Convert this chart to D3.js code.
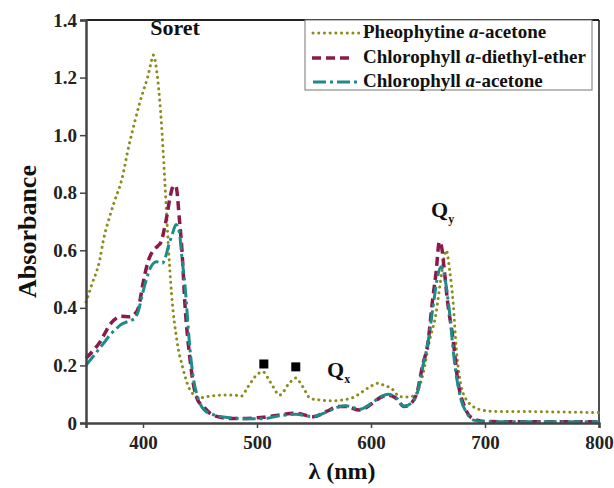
<!DOCTYPE html>
<html lang="en">
<head>
<meta charset="UTF-8">
<title>Absorbance spectra</title>
<script src="https://d3js.org/d3.v7.min.js"></script>
<style>
  body { margin: 0; background: #fff; }
  svg { display: block; }
  svg text { font-family: "Liberation Serif", "Times New Roman", Times, "DejaVu Serif", serif; font-weight: bold; }
</style>
</head>
<body>
<svg id="chart" width="614" height="488"></svg>
<script>
// wavelength (nm) / absorbance
const pheoWl  = [350, 355, 362, 365, 371, 375, 381, 388, 393, 397, 400, 404, 407, 409, 413, 416, 419, 422, 425, 430, 435, 440, 445, 450, 460, 470, 480, 486, 492, 500, 505, 512, 520, 528, 534, 540, 547, 555, 565, 575, 585, 593, 600, 606, 612, 618, 625, 632, 638, 645, 651, 657, 662, 666, 669, 672, 675, 679, 683, 688, 695, 710, 730, 750, 770, 800];
const pheoAbs = [0.42, 0.48, 0.566, 0.63, 0.72, 0.77, 0.84, 0.97, 1.05, 1.11, 1.15, 1.20, 1.25, 1.278, 1.19, 1.05, 0.85, 0.63, 0.45, 0.28, 0.19, 0.125, 0.097, 0.088, 0.094, 0.097, 0.097, 0.093, 0.125, 0.168, 0.178, 0.14, 0.097, 0.137, 0.156, 0.127, 0.085, 0.08, 0.077, 0.08, 0.09, 0.11, 0.128, 0.138, 0.13, 0.12, 0.092, 0.09, 0.095, 0.16, 0.28, 0.38, 0.52, 0.60, 0.53, 0.42, 0.25, 0.13, 0.085, 0.062, 0.047, 0.04, 0.04, 0.039, 0.038, 0.036];

const etherWl  = [350, 356, 362, 367, 372, 377, 381, 388, 393, 396, 400, 404, 409, 413, 416, 419, 421, 424, 427, 429, 432, 434, 437, 441, 444, 448, 453, 461, 476, 491, 505, 520, 534, 549, 561, 571, 578, 590, 601, 608, 615, 622, 629, 635, 641, 645, 650, 654, 657, 660, 662, 664, 667, 672, 676, 682, 689, 700, 750, 800];
const etherAbs = [0.225, 0.25, 0.28, 0.315, 0.347, 0.365, 0.371, 0.369, 0.38, 0.40, 0.485, 0.555, 0.60, 0.615, 0.63, 0.68, 0.72, 0.79, 0.825, 0.82, 0.705, 0.61, 0.40, 0.23, 0.14, 0.08, 0.057, 0.028, 0.016, 0.016, 0.02, 0.028, 0.034, 0.022, 0.04, 0.057, 0.057, 0.045, 0.068, 0.088, 0.097, 0.086, 0.057, 0.068, 0.115, 0.196, 0.28, 0.427, 0.52, 0.63, 0.61, 0.543, 0.427, 0.29, 0.15, 0.057, 0.016, 0.005, 0.004, 0.004];

const acetWl  = [350, 356, 362, 367, 371, 376, 380, 385, 390, 393, 396, 399, 402, 407, 412, 417, 420, 422, 426, 429, 432, 434, 437, 441, 444, 448, 453, 461, 476, 491, 505, 520, 534, 549, 561, 571, 578, 590, 601, 608, 615, 622, 629, 635, 641, 645, 650, 655, 658, 661.5, 664, 668.7, 673, 679, 684, 690, 700, 750, 800];
const acetAbs = [0.20, 0.23, 0.26, 0.285, 0.306, 0.325, 0.34, 0.35, 0.357, 0.365, 0.39, 0.44, 0.485, 0.543, 0.56, 0.555, 0.58, 0.61, 0.66, 0.69, 0.66, 0.58, 0.47, 0.265, 0.16, 0.09, 0.048, 0.03, 0.018, 0.015, 0.015, 0.025, 0.03, 0.022, 0.038, 0.055, 0.06, 0.048, 0.07, 0.09, 0.1, 0.088, 0.058, 0.068, 0.11, 0.19, 0.28, 0.42, 0.5, 0.543, 0.52, 0.39, 0.22, 0.08, 0.035, 0.01, 0.004, 0.004, 0.004];

const markerWl  = [506, 534];
const markerAbs = [0.205, 0.195];

const xTicks = [400, 500, 600, 700, 800];
const yTicks = [0, 0.2, 0.4, 0.6, 0.8, 1.0, 1.2, 1.4];

const series = [
  { name: "Pheophytine", solvent: "-acetone", wl: pheoWl, abs: pheoAbs, color: "#8c8c1e", width: 3, dash: "0.1 5.6", cap: "round" },
  { name: "Chlorophyll", solvent: "-diethyl-ether", wl: etherWl, abs: etherAbs, color: "#8b1a4b", width: 3.5, dash: "9 5", cap: "butt" },
  { name: "Chlorophyll", solvent: "-acetone", wl: acetWl, abs: acetAbs, color: "#1e8a8a", width: 3, dash: "13 4 3 4", cap: "butt" }
];

const svg = d3.select("#chart");
const mLeft = 86, mRight = 599, mTop = 20, mBottom = 423;

const x = d3.scaleLinear().domain([350, 800]).range([mLeft, mRight]);
const y = d3.scaleLinear().domain([0, 1.4]).range([mBottom, mTop]);

// frame: top and right
svg.append("line").attr("x1", mLeft).attr("x2", mRight).attr("y1", mTop).attr("y2", mTop)
  .attr("stroke", "#222").attr("stroke-width", 1.8);
svg.append("line").attr("x1", mRight).attr("x2", mRight).attr("y1", mTop).attr("y2", mBottom)
  .attr("stroke", "#222").attr("stroke-width", 1.6);

// curves
const line = d3.line().curve(d3.curveMonotoneX);
series.forEach(s => {
  const pts = s.wl.map((w, i) => [x(w), y(s.abs[i])]);
  svg.append("path")
    .attr("d", line(pts))
    .attr("fill", "none")
    .attr("stroke", s.color)
    .attr("stroke-width", s.width)
    .attr("stroke-dasharray", s.dash)
    .attr("stroke-linecap", s.cap);
});

// axes
const xAxis = svg.append("g").attr("transform", `translate(0,${mBottom})`)
  .call(d3.axisBottom(x).tickValues(xTicks).tickSize(5).tickFormat(d3.format("d")));
const yAxis = svg.append("g").attr("transform", `translate(${mLeft},0)`)
  .call(d3.axisLeft(y).tickValues(yTicks).tickSize(6).tickFormat(d => d === 0 ? "0" : d3.format(".1f")(d)));

[xAxis, yAxis].forEach(g => {
  g.attr("font-family", null).attr("font-size", null);
  g.select(".domain").attr("stroke", "#444").attr("stroke-width", 2.5);
  g.selectAll(".tick line").attr("stroke", "#444").attr("stroke-width", 1.5);
  g.selectAll(".tick text").attr("fill", "#222").style("font-size", "19px");
});
xAxis.selectAll(".tick text").attr("dy", "0.95em");
yAxis.selectAll(".tick text").attr("x", -9);

// markers
svg.selectAll("rect.mark")
  .data(markerWl)
  .enter().append("rect")
  .attr("class", "mark")
  .attr("x", (d, i) => x(d) - 4.5)
  .attr("y", (d, i) => y(markerAbs[i]) - 4.5)
  .attr("width", 9).attr("height", 9)
  .attr("fill", "#000");

// annotations
svg.append("text").attr("x", 175).attr("y", 35).attr("text-anchor", "middle")
  .style("font-size", "22px").attr("fill", "#111").text("Soret");

const qy = svg.append("text").attr("x", 431).attr("y", 217).style("font-size", "22px").attr("fill", "#111");
qy.append("tspan").text("Q");
qy.append("tspan").style("font-size", "12px").attr("dy", 6).text("y");

const qx = svg.append("text").attr("x", 327).attr("y", 377).style("font-size", "22px").attr("fill", "#111");
qx.append("tspan").text("Q");
qx.append("tspan").style("font-size", "12px").attr("dy", 6).text("x");

// axis titles
svg.append("text")
  .attr("transform", `translate(36,${(mTop + mBottom) / 2 + 10}) rotate(-90)`)
  .attr("text-anchor", "middle").style("font-size", "26px").attr("fill", "#111")
  .text("Absorbance");
svg.append("text").attr("x", 342).attr("y", 479).attr("text-anchor", "middle")
  .style("font-size", "24px").attr("fill", "#111").text("λ (nm)");

// legend
const lg = svg.append("g");
lg.append("rect").attr("x", 305).attr("y", mTop).attr("width", 287).attr("height", 70)
  .attr("fill", "#fff").attr("stroke", "#777").attr("stroke-width", 1);
const legY = [33, 58, 82];
const legX = [[313, 360], [312, 352], [313, 360]];
series.forEach((s, i) => {
  lg.append("line")
    .attr("x1", legX[i][0]).attr("x2", legX[i][1])
    .attr("y1", legY[i]).attr("y2", legY[i])
    .attr("stroke", s.color).attr("stroke-width", s.width)
    .attr("stroke-dasharray", s.dash).attr("stroke-linecap", s.cap);
  const t = lg.append("text").attr("x", 363).attr("y", legY[i] + 5)
    .style("font-size", "19px").attr("fill", "#111");
  t.append("tspan").text(s.name + " ");
  t.append("tspan").attr("font-style", "italic").text("a");
  t.append("tspan").text(s.solvent);
});
</script>
</body>
</html>
